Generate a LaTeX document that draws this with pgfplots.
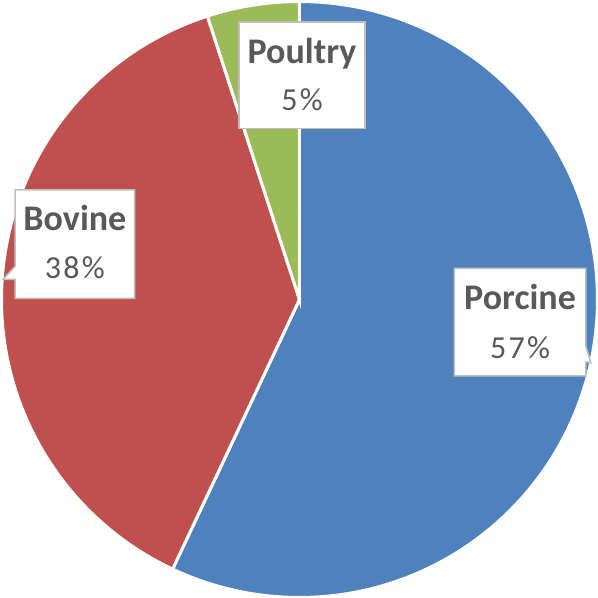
\documentclass[border=0pt]{standalone}
\usepackage{fontspec}
\setmainfont{Carlito}
\usepackage{pgfplots}
\pgfplotsset{compat=1.18}
\definecolor{porc}{HTML}{4F81BD}
\definecolor{bov}{HTML}{C0504D}
\definecolor{poul}{HTML}{9BBB59}
\definecolor{txt}{HTML}{595959}
\definecolor{boxgray}{HTML}{BFBFBF}
% shares in percent
\def\vPorc{57}
\def\vBov{38}
\def\vPoul{5}
\def\R{296.5}
\newcommand{\lab}{\fontsize{36}{40}\selectfont\bfseries\color{txt}}
\newcommand{\pct}{\fontsize{32}{36}\selectfont\addfontfeature{LetterSpace=7}\color{txt}}
\begin{document}
\begin{tikzpicture}
\begin{axis}[
  width=598bp, height=595bp, scale only axis,
  hide axis,
  xmin=-301, xmax=297, ymin=-297, ymax=298,
]
\addplot[fill=porc, draw=white, line width=3bp, domain={90-3.6*\vPorc}:90, samples=150, variable=\t]
  ({\R*cos(\t)},{\R*sin(\t)}) -- (axis cs:0,0) -- cycle;
\addplot[fill=bov, draw=white, line width=3bp, domain={90-3.6*(\vPorc+\vBov)}:{90-3.6*\vPorc}, samples=120, variable=\t]
  ({\R*cos(\t)},{\R*sin(\t)}) -- (axis cs:0,0) -- cycle;
\addplot[fill=poul, draw=white, line width=3bp, domain={90-3.6*(\vPorc+\vBov+\vPoul)}:{90-3.6*(\vPorc+\vBov)}, samples=30, variable=\t]
  ({\R*cos(\t)},{\R*sin(\t)}) -- (axis cs:0,0) -- cycle;
% label boxes
\draw[draw=boxgray, line width=1.5bp, fill=white]
  (axis cs:-283,109) -- (axis cs:-164,109) -- (axis cs:-164,1) -- (axis cs:-283,1)
  -- (axis cs:-283,20) -- (axis cs:-295,20) -- (axis cs:-283,33) -- cycle;
\draw[draw=boxgray, line width=1.5bp, fill=white]
  (axis cs:-60,276) -- (axis cs:65,276) -- (axis cs:65,170) -- (axis cs:-60,170) -- cycle;
\draw[draw=boxgray, line width=1.5bp, fill=white]
  (axis cs:154,31) -- (axis cs:285,31) -- (axis cs:285,-47) -- (axis cs:290,-63)
  -- (axis cs:285,-62) -- (axis cs:285,-76) -- (axis cs:154,-76) -- cycle;
% texts
\node[anchor=base, inner sep=0pt] at (axis cs:219.5,-10) {\lab Porcine};
\node[anchor=base, inner sep=0pt] at (axis cs:219.5,-59) {\pct \vPorc\%};
\node[anchor=base, inner sep=0pt] at (axis cs:-223.5,69) {\lab Bovine};
\node[anchor=base, inner sep=0pt] at (axis cs:-223.5,21) {\pct \vBov\%};
\node[anchor=base, inner sep=0pt] at (axis cs:2.5,235) {\lab Poultry};
\node[anchor=base, inner sep=0pt] at (axis cs:2.5,188) {\pct \vPoul\%};
\end{axis}
\end{tikzpicture}
\end{document}
